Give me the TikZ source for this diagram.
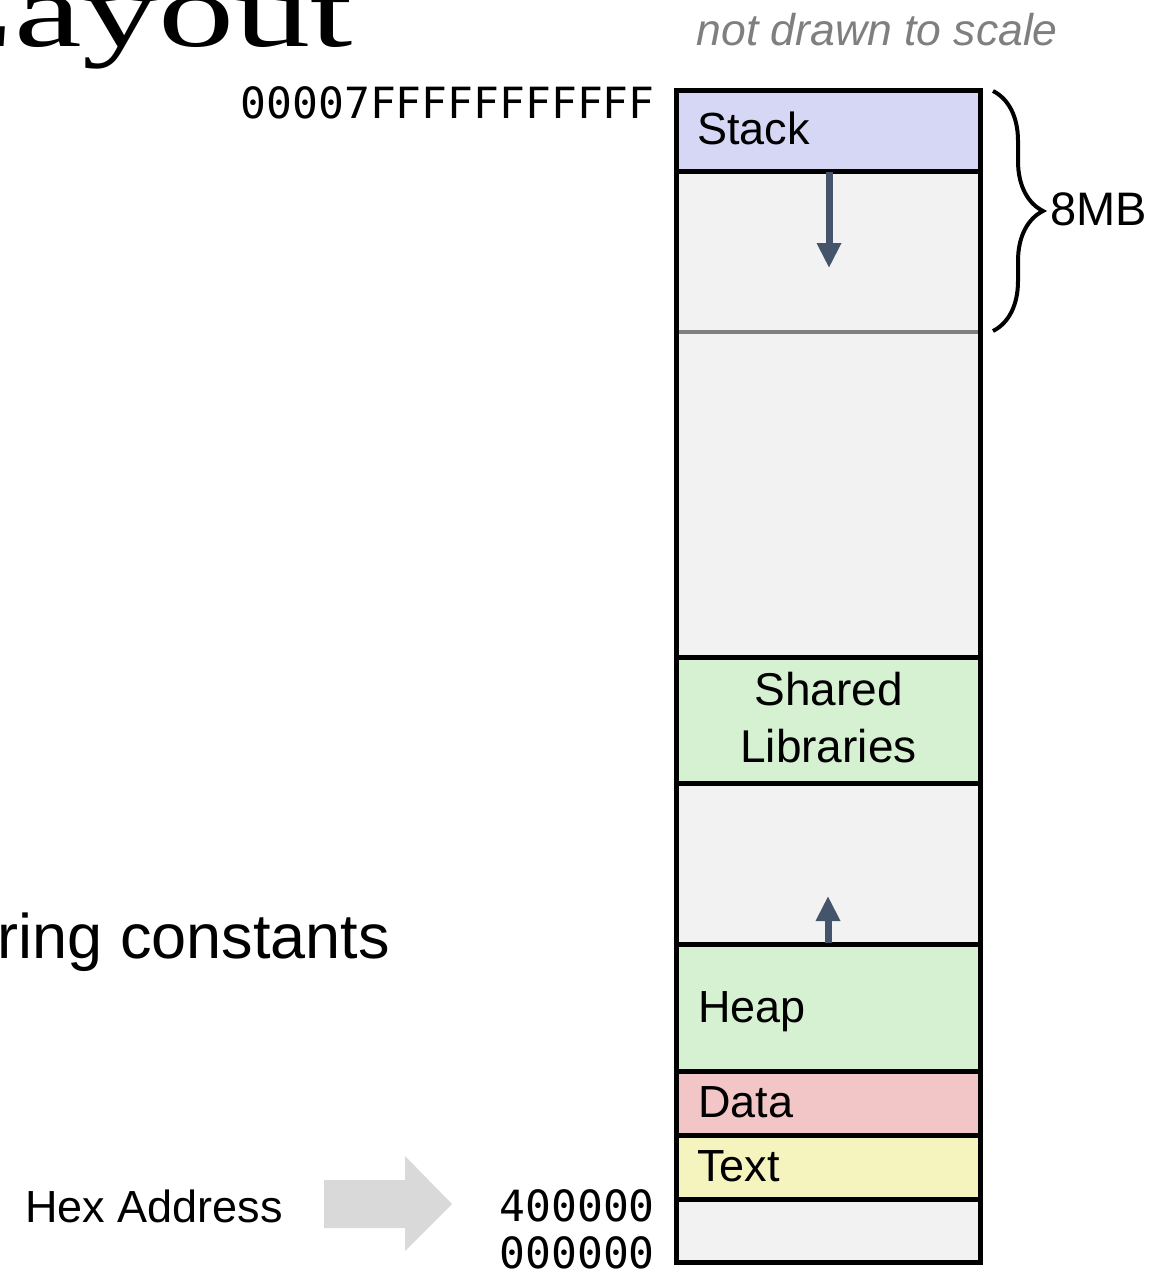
\documentclass[tikz,border=0pt]{standalone}
\usepackage{fontspec}
\setmainfont{Liberation Sans}
\setmonofont{DejaVu Sans Mono}
\newfontfamily\titlefont{Liberation Serif}
\usetikzlibrary{arrows.meta}
\usetikzlibrary{decorations.pathreplacing}

\definecolor{stackc}{HTML}{D6D6F5}
\definecolor{emptyc}{HTML}{F2F2F2}
\definecolor{libc}{HTML}{D5F1D1}
\definecolor{datac}{HTML}{F2C6C7}
\definecolor{textc}{HTML}{F6F4BE}
\definecolor{growc}{HTML}{44546A}
\definecolor{limitc}{HTML}{808080}
\definecolor{notec}{HTML}{7F7F7F}
\definecolor{pointc}{HTML}{D9D9D9}

\tikzset{
  seg/.style={draw=black, line width=5pt},
  seglabel/.style={anchor=base west, inner sep=0pt, font=\fontsize{45}{57}\selectfont},
  addr/.style={anchor=base east, inner sep=0pt, font=\ttfamily\fontsize{43}{50}\selectfont},
  growarrow/.style={draw=growc, line width=7pt, -{Triangle[length=25pt,width=23pt]}},
}

\begin{document}
\begin{tikzpicture}[x=1pt,y=-1pt]
          \useasboundingbox (0,0) rectangle (1155,1276);
          \clip (0,0) rectangle (1155,1276);

          % segments, top to bottom
          \draw[seg, fill=stackc] (676.5,91) rectangle (980.5,171.5);
          \draw[seg, fill=emptyc] (676.5,171.5) rectangle (980.5,657);
          \draw[seg, fill=libc] (676.5,657) rectangle (980.5,783.5);
          \draw[seg, fill=emptyc] (676.5,783.5) rectangle (980.5,944.5);
          \draw[seg, fill=libc] (676.5,944.5) rectangle (980.5,1071.5);
          \draw[seg, fill=datac] (676.5,1071.5) rectangle (980.5,1135.5);
          \draw[seg, fill=textc] (676.5,1135.5) rectangle (980.5,1199.5);
          \draw[seg, fill=emptyc] (676.5,1199.5) rectangle (980.5,1262.5);
          \draw[limitc, line width=4pt] (679,331.5) -- (978,331.5);

          \node[seglabel] (stack) at (697,145) {Stack};
          \node[anchor=base, inner sep=0pt, align=center, font=\fontsize{46}{57}\selectfont] (libs) at (828.5,762) {Shared\\Libraries};
          \node[seglabel] (heap) at (698,1022) {Heap};
          \node[seglabel] (data) at (698,1117) {Data};
          \node[seglabel] (text) at (697,1181) {Text};

          % growth
          \coordinate (stackstart) at (829,172);
          \coordinate (stackend) at (829,268);
          \coordinate (heapstart) at (828,943);
          \coordinate (heapend) at (828,896);
          \draw[growarrow] (stackstart) -- (stackend);
          \draw[growarrow] (heapstart) -- (heapend);

          % 8MB
          \coordinate (bracetop) at (993,91);
          \coordinate (bracebot) at (993,331);
          \draw[line width=4pt, decorate, decoration={brace, amplitude=50pt}] (bracetop) -- (bracebot);
          \node[anchor=base west, inner sep=0pt, font=\fontsize{47}{54}\selectfont] (size) at (1050,225) {8MB};

          \node[addr] (top) at (655,119) {00007FFFFFFFFFFF};
          \node[addr] (textaddr) at (655,1221) {400000};
          \node[addr] (zero) at (655,1268) {000000};

          \node[anchor=base west, inner sep=0pt, font=\fontsize{45}{54}\selectfont] (hex) at (25,1222) {Hex Address};
          \fill[pointc] (324,1180) -- (405,1180) -- (405,1156) -- (452,1204) -- (405,1251) -- (405,1228) -- (324,1228) -- cycle;

          \node[anchor=base east, inner sep=0pt, font=\itshape\fontsize{44.5}{50}\selectfont, text=notec] (note) at (1058,46) {not drawn to scale};
          \node[anchor=base east, inner sep=0pt, font=\titlefont\fontsize{105}{110}\selectfont, xscale=1.45] (title) at (353,47) {Layout};
          \node[anchor=base east, inner sep=0pt, font=\fontsize{63}{70}\selectfont] (strings) at (390,958) {ring constants};
        \end{tikzpicture}
\end{document}
